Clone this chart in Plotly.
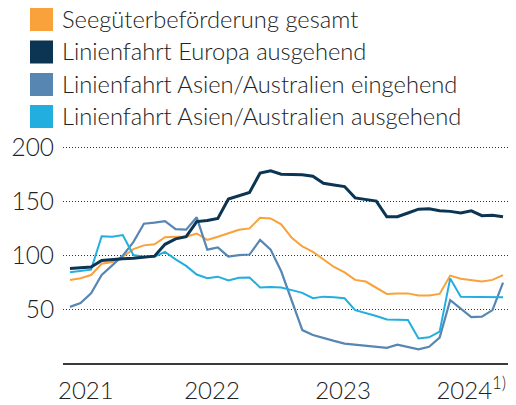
import plotly.graph_objects as go

# ---- data (monthly index, Jan 2021 .. Jun 2024) ----
months = ["2021-01","2021-02","2021-03","2021-04","2021-05","2021-06","2021-07","2021-08","2021-09","2021-10","2021-11","2021-12",
          "2022-01","2022-02","2022-03","2022-04","2022-05","2022-06","2022-07","2022-08","2022-09","2022-10","2022-11","2022-12",
          "2023-01","2023-02","2023-03","2023-04","2023-05","2023-06","2023-07","2023-08","2023-09","2023-10","2023-11","2023-12",
          "2024-01","2024-02","2024-03","2024-04","2024-05","2024-06"]

series_names = ["Seegüterbeförderung gesamt",
                "Linienfahrt Europa ausgehend",
                "Linienfahrt Asien/Australien eingehend",
                "Linienfahrt Asien/Australien ausgehend"]

gesamt = [77, 78.5, 81.5, 92, 93.5, 98.5, 105.5, 109, 110, 116.5, 117, 117,
          120, 114, 117, 120, 123.5, 124.7, 134.5, 134, 128.5, 116, 108, 103,
          96, 89, 84, 77, 75.5, 70, 64, 64.5, 64.5, 62.5, 62.5, 64,
          81, 78, 76.5, 75.5, 77, 81.5]

europa_aus = [87.5, 88, 89, 95, 96, 96.5, 97, 98, 99, 110, 115, 117,
              131, 132, 134, 152, 155, 158, 176, 178, 175, 175, 174.5, 173,
              166.5, 165, 163.5, 153, 151.5, 150, 135.5, 135.5, 139, 142.5, 143, 141,
              140.5, 139, 141, 136.5, 137, 135.5]

asien_ein = [52, 55.5, 64.5, 81.5, 90.5, 99.5, 112, 129, 130, 131.5, 124, 123.5,
             135, 105, 107, 98.5, 100, 100.5, 114, 105, 85, 57, 30.5, 26,
             23, 20.5, 18, 17, 16.5, 15.5, 14, 17, 14.5, 12.6, 15, 23.5,
             58.3, 50, 42.5, 43, 49, 74.5]

asien_aus = [84, 85.5, 86.5, 117.5, 117, 118.5, 100, 98.5, 98.5, 103, 96, 90,
             82, 78.5, 80, 76.5, 79, 79.3, 70, 70.5, 70, 67.5, 65, 60,
             61.5, 61, 60, 49, 46.5, 43.5, 40.4, 40, 39.8, 22.8, 23.8, 29,
             78.4, 61.4, 61.4, 61.4, 61.4, 61]

y_ticks = [50, 100, 150, 200]
year_labels = ["2021", "2022", "2023", "2024<sup>1)</sup>"]
year_pos = [1.5, 13.45, 25.85, 38.0]

colors = ["#F9A13A", "#0B3552", "#5786B3", "#22AEDE"]
widths = [2, 3, 2.2, 2]
values = [gesamt, europa_aus, asien_ein, asien_aus]

x = list(range(len(months)))

fig = go.Figure()
# draw order: gesamt, eingehend, ausgehend asia, europa on top
for idx in [0, 2, 3, 1]:
    fig.add_trace(go.Scatter(x=x, y=values[idx], mode="lines", name=series_names[idx],
                             line=dict(color=colors[idx], width=widths[idx]),
                             customdata=months, hovertemplate="%{customdata}: %{y}<extra></extra>",
                             showlegend=False))

FONT = "Lato"
OFF = 8  # page body margin offset
W, H = 516 - OFF, 405 - OFF
# target pixel positions in the window
L, R, T, B = 63, 516, 145, 363
pw, ph = R - L, B - T
row_centers = [19.5, 52, 84.5, 116.5]
for i, name in enumerate(series_names):
    cy = row_centers[i]
    fig.add_shape(type="rect", xref="paper", yref="paper",
                  x0=(30 - L) / pw, x1=(53 - L) / pw,
                  y0=(B - (cy - 11.5)) / ph, y1=(B - (cy + 11.5)) / ph,
                  fillcolor=colors[i], line=dict(width=0))
    fig.add_annotation(xref="paper", yref="paper", x=(60 - L) / pw, y=(B - cy + 1) / ph,
                       xanchor="left", yanchor="middle", text=name, showarrow=False,
                       font=dict(size=23.7, color="#222222", family=FONT, weight=300))

fig.update_layout(
    width=W, height=H,
    margin=dict(l=L - OFF, r=516 - R, t=T - OFF, b=405 - B, autoexpand=False),
    plot_bgcolor="white", paper_bgcolor="white",
    font=dict(family=FONT, size=24, color="#222222", weight=300),
    showlegend=False,
)
fig.update_xaxes(range=[-0.66, 42.23], tickvals=year_pos, ticktext=year_labels,
                 showgrid=False, zeroline=False, showline=True, linecolor="#3a3a3a", linewidth=2,
                 ticks="outside", ticklen=5, tickcolor="rgba(0,0,0,0)", automargin=False,
                 tickfont=dict(size=24, color="#222222", family=FONT, weight=300))
fig.update_yaxes(range=[0, 202], tickvals=y_ticks, showgrid=True, gridcolor="#333333",
                 griddash="1px,2px", gridwidth=1, zeroline=False, showline=False,
                 ticks="outside", ticklen=3, tickcolor="rgba(0,0,0,0)", automargin=False,
                 tickfont=dict(size=24.5, color="#222222", family=FONT, weight=300))

fig.write_html("out.html")
